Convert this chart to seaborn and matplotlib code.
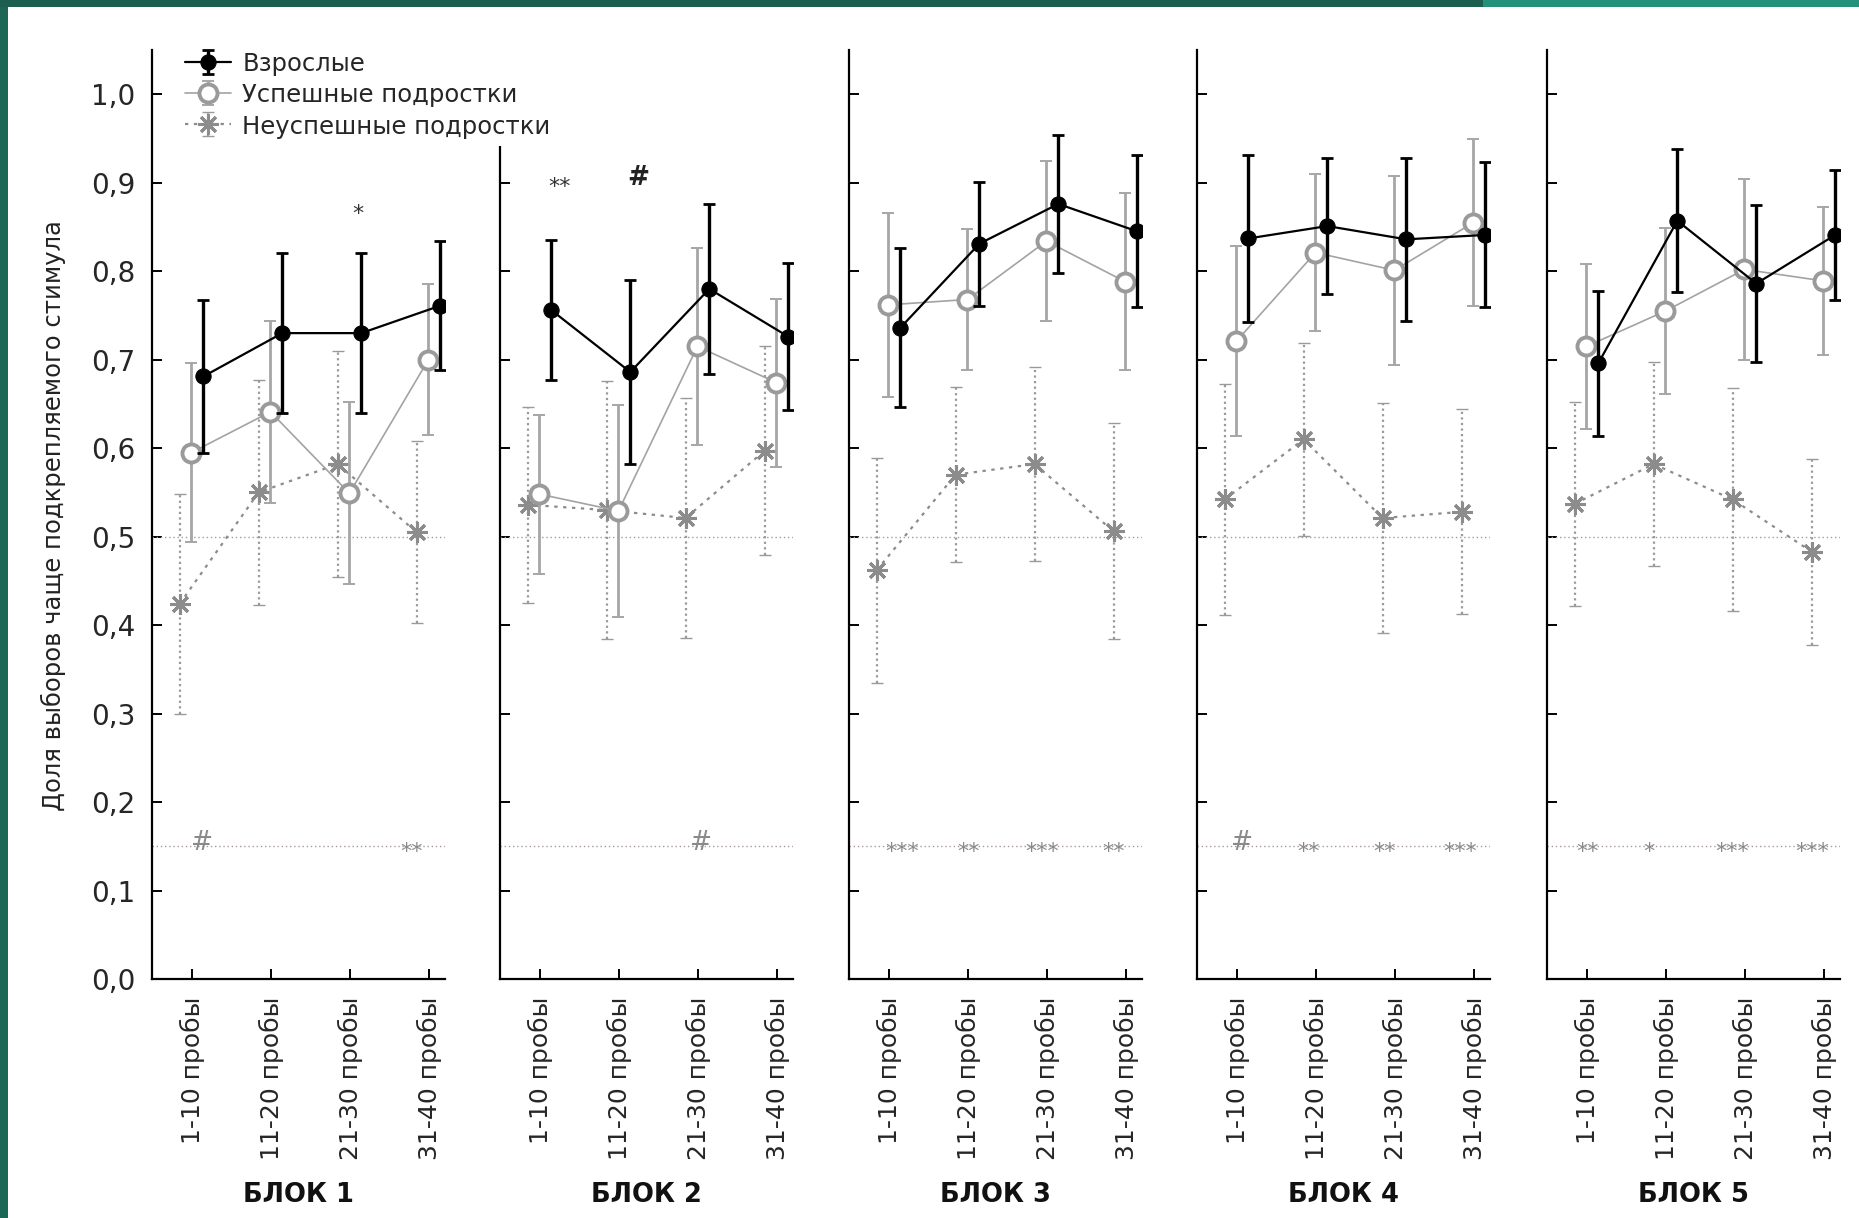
import numpy as np
import pandas as pd
import matplotlib
matplotlib.use("Agg")
import matplotlib.pyplot as plt
import seaborn as sns
from matplotlib.container import ErrorbarContainer
from matplotlib.patches import Rectangle
from matplotlib.ticker import FuncFormatter, MultipleLocator

# ---------------- data ----------------
blocks = ["БЛОК 1", "БЛОК 2", "БЛОК 3", "БЛОК 4", "БЛОК 5"]
trials = ["1-10 пробы", "11-20 пробы", "21-30 пробы", "31-40 пробы"]
groups = ["Взрослые", "Успешные подростки", "Неуспешные подростки"]

adults_mean = [[0.681, 0.730, 0.730, 0.761],
               [0.756, 0.686, 0.780, 0.726],
               [0.736, 0.831, 0.876, 0.845],
               [0.837, 0.851, 0.836, 0.841],
               [0.696, 0.857, 0.786, 0.841]]
adults_err = [[0.087, 0.090, 0.090, 0.073],
              [0.079, 0.104, 0.096, 0.083],
              [0.090, 0.070, 0.078, 0.086],
              [0.094, 0.077, 0.092, 0.082],
              [0.082, 0.081, 0.089, 0.073]]
succ_mean = [[0.595, 0.641, 0.549, 0.700],
             [0.548, 0.529, 0.715, 0.674],
             [0.762, 0.768, 0.834, 0.788],
             [0.721, 0.821, 0.801, 0.855],
             [0.715, 0.755, 0.802, 0.789]]
succ_err = [[0.101, 0.103, 0.103, 0.085],
            [0.090, 0.120, 0.111, 0.095],
            [0.104, 0.080, 0.090, 0.100],
            [0.107, 0.089, 0.107, 0.094],
            [0.093, 0.094, 0.102, 0.084]]
unsucc_mean = [[0.424, 0.550, 0.582, 0.505],
               [0.536, 0.530, 0.521, 0.597],
               [0.462, 0.570, 0.582, 0.506],
               [0.542, 0.610, 0.521, 0.528],
               [0.537, 0.582, 0.542, 0.483]]
unsucc_err = [[0.124, 0.127, 0.128, 0.103],
              [0.111, 0.146, 0.136, 0.118],
              [0.127, 0.099, 0.110, 0.122],
              [0.131, 0.109, 0.130, 0.116],
              [0.115, 0.115, 0.126, 0.105]]

# significance marks: (block index, x position, y value, text)
sig_top = [(0, 2.10, 0.875, "*"), (1, 0.25, 0.905, "**"), (1, 1.24, 0.905, "#")]
sig_low_x = [[0.12, 2.78], [2.04], [0.16, 1.00, 1.94, 2.84],
             [0.06, 0.90, 1.87, 2.82], [0.00, 0.78, 1.84, 2.85]]
sig_low_txt = [["#", "**"], ["#"], ["***", "**", "***", "**"],
               ["#", "**", "**", "***"], ["**", "*", "***", "***"]]
chance_level = 0.5
sig_line = 0.15

# ---------------- figure ----------------
sns.set_theme(style="white")
plt.rcParams["font.family"] = ["DejaVu Sans"]
W, H = 1859, 1218
fig = plt.figure(figsize=(W / 100, H / 100), dpi=100)
fig.patch.set_facecolor("white")

# decorative border
fig.patches.append(Rectangle((0, 0), 8 / W, 1, transform=fig.transFigure,
                             facecolor="#1c6656", edgecolor="none", zorder=0))
fig.patches.append(Rectangle((0, 1 - 7 / H), 1483 / W, 7 / H, transform=fig.transFigure,
                             facecolor="#1c5e50", edgecolor="none", zorder=0))
fig.patches.append(Rectangle((1483 / W, 1 - 7 / H), 1 - 1483 / W, 7 / H,
                             transform=fig.transFigure,
                             facecolor="#22937a", edgecolor="none", zorder=0))

lefts_px = [152, 500, 849, 1197, 1547]
ax_w = 293 / W
ax_b = 1 - 979 / H
ax_h = (979 - 50) / H

offsets = [0.14, -0.01, -0.16]
x_base = np.arange(len(trials))
handles = []

for b in range(len(blocks)):
    ax = fig.add_axes([lefts_px[b] / W, ax_b, ax_w, ax_h])
    ax.set_facecolor("white")
    ax.set_xlim(-0.51, 3.2)
    ax.set_ylim(0, 1.05)

    # reference lines
    ax.axhline(chance_level, color="#a89a9a", lw=1.0, ls=(0, (1, 2)), zorder=1)
    ax.axhline(sig_line, color="#a89a9a", lw=1.0, ls=(0, (1, 2)), zorder=1)

    # unsuccessful adolescents
    xs = x_base + offsets[2]
    eb3 = ax.errorbar(xs, unsucc_mean[b], yerr=unsucc_err[b], fmt="none",
                      ecolor="#9a9a9a", elinewidth=1.6, capsize=4, capthick=1.0, zorder=2)
    for lc in eb3[2]:
        lc.set_linestyle((0, (1, 1.5)))
    sns.lineplot(x=xs, y=unsucc_mean[b], ax=ax, color="#8c8c8c", lw=1.6,
                 linestyle=(0, (1.5, 2.5)), marker=(8, 2, 0), markersize=15,
                 markeredgewidth=2.2, markeredgecolor="#8c8c8c", sort=False,
                 errorbar=None, zorder=3)
    l3 = ax.lines[-1]

    # successful adolescents
    xs = x_base + offsets[1]
    eb2 = ax.errorbar(xs, succ_mean[b], yerr=succ_err[b], fmt="none",
                      ecolor="#a6a6a6", elinewidth=2.0, capsize=4, capthick=1.4, zorder=4)
    sns.lineplot(x=xs, y=succ_mean[b], ax=ax, color="#a3a3a3", lw=1.2,
                 marker="o", markersize=13, markerfacecolor="white",
                 markeredgecolor="#9a9a9a", markeredgewidth=2.8, sort=False,
                 errorbar=None, zorder=5)
    l2 = ax.lines[-1]

    # adults
    xs = x_base + offsets[0]
    eb1 = ax.errorbar(xs, adults_mean[b], yerr=adults_err[b], fmt="none",
                      ecolor="black", elinewidth=2.4, capsize=4.5, capthick=2.0, zorder=6)
    sns.lineplot(x=xs, y=adults_mean[b], ax=ax, color="black", lw=1.6,
                 marker="o", markersize=11, markerfacecolor="black",
                 markeredgecolor="black", sort=False, errorbar=None, zorder=7)
    l1 = ax.lines[-1]

    if b == 0:
        handles = [ErrorbarContainer((l1, eb1[1], eb1[2]), has_xerr=False, has_yerr=True),
                   ErrorbarContainer((l2, eb2[1], eb2[2]), has_xerr=False, has_yerr=True),
                   ErrorbarContainer((l3, eb3[1], eb3[2]), has_xerr=False, has_yerr=True)]

    # significance marks
    for (bi, xx, yy, tt) in sig_top:
        if bi == b:
            if tt == "#":
                ax.text(xx, yy, tt, ha="center", va="center", fontsize=19,
                        fontweight="bold", color="#222222")
            else:
                ax.text(xx, yy - 0.01, tt, ha="center", va="center", fontsize=16,
                        color="#333333")
    for xx, tt in zip(sig_low_x[b], sig_low_txt[b]):
        if tt == "#":
            ax.text(xx, sig_line + 0.004, tt, ha="center", va="center",
                    fontsize=19, color="#8a8a8a")
        else:
            ax.text(xx, sig_line - 0.006, tt, ha="center", va="center",
                    fontsize=16, color="#8a8a8a")

    # axes styling
    for s in ["top", "right"]:
        ax.spines[s].set_visible(False)
    for s in ["left", "bottom"]:
        ax.spines[s].set_color("black")
        ax.spines[s].set_linewidth(1.6)
    ax.set_xticks(x_base)
    ax.set_xticklabels(trials, rotation=90, fontsize=18)
    ax.yaxis.set_major_locator(MultipleLocator(0.1))
    ax.tick_params(axis="both", direction="in", length=7, width=1.4,
                   color="black", left=True, bottom=True)
    ax.tick_params(axis="x", pad=13)
    if b == 0:
        ax.yaxis.set_major_formatter(FuncFormatter(lambda v, p: f"{v:.1f}".replace(".", ",")))
        ax.tick_params(axis="y", labelsize=20, pad=12)
    else:
        ax.tick_params(axis="y", labelleft=False)
    ax.set_xlabel("")
    ax.set_ylabel("")
    ax.grid(False)

    fig.text((lefts_px[b] + 146.5) / W, 1 - 1195 / H, blocks[b], ha="center",
             va="center", fontsize=18.5, fontweight="bold", color="#111111")

fig.text(53 / W, 1 - 516 / H, "Доля выборов чаще подкрепляемого стимула",
         rotation=90, ha="center", va="center", fontsize=17.5, color="#222222")

leg = fig.legend(handles, groups, loc="upper left",
                 bbox_to_anchor=(178 / W, 1 - 45 / H), frameon=True,
                 fontsize=17.5, handlelength=1.9, handleheight=1.0, handletextpad=0.45,
                 labelspacing=0.28, borderpad=0.3, borderaxespad=0)
leg.get_frame().set_facecolor("white")
leg.get_frame().set_edgecolor("none")
leg.get_frame().set_alpha(1)
leg.set_zorder(20)

fig.savefig("out.png", dpi=100, facecolor="white")
